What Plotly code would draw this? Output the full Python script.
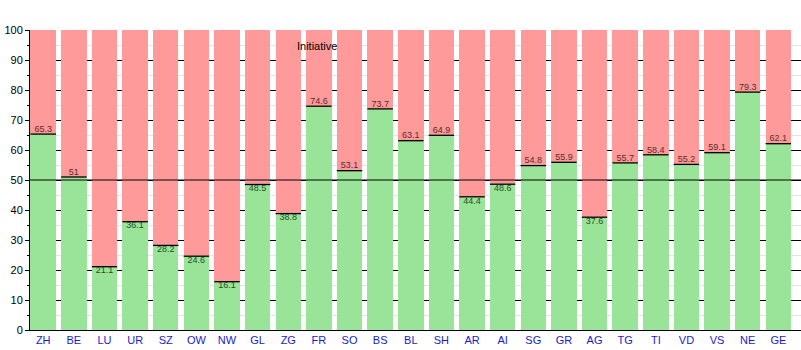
import plotly.graph_objects as go

# Cantonal results of the vote, "yes" share in percent
cantons = ["ZH", "BE", "LU", "UR", "SZ", "OW", "NW", "GL", "ZG", "FR", "SO", "BS", "BL",
           "SH", "AR", "AI", "SG", "GR", "AG", "TG", "TI", "VD", "VS", "NE", "GE"]
yes_pct = [65.3, 51, 21.1, 36.1, 28.2, 24.6, 16.1, 48.5, 38.8, 74.6, 53.1, 73.7, 63.1,
           64.9, 44.4, 48.6, 54.8, 55.9, 37.6, 55.7, 58.4, 55.2, 59.1, 79.3, 62.1]
y_ticks = [0, 10, 20, 30, 40, 50, 60, 70, 80, 90, 100]
title_text = "Initiative"

GREEN = "rgb(154,228,154)"
RED = "rgb(255,154,154)"
BAR_W = 0.832

xs = list(range(len(cantons)))
no_pct = [round(100 - v, 1) for v in yes_pct]

fig = go.Figure()
fig.add_trace(go.Bar(x=xs, y=yes_pct, width=BAR_W, marker=dict(color=GREEN, line=dict(width=0)),
                     hoverinfo="skip"))
fig.add_trace(go.Bar(x=xs, y=no_pct, width=BAR_W, marker=dict(color=RED, line=dict(width=0)),
                     hoverinfo="skip"))

# black rule on top of each yes-bar
lx, ly = [], []
for x, v in zip(xs, yes_pct):
    lx += [x - BAR_W / 2, x + BAR_W / 2, None]
    ly += [v, v, None]
fig.add_trace(go.Scatter(x=lx, y=ly, mode="lines", line=dict(color="black", width=1.3),
                         hoverinfo="skip"))

# value labels: above the rule on the red part, below it on the green part
fig.add_trace(go.Scatter(
    x=xs, y=yes_pct, mode="text",
    text=[f"{v:g}" for v in yes_pct],
    textposition=["top center" if v >= 50 else "bottom center" for v in yes_pct],
    textfont=dict(size=9, color=["#5a2a2a" if v >= 50 else "#1f4f1f" for v in yes_pct],
                  family="Liberation Sans, Arial, sans-serif"),
    hoverinfo="skip"))

fig.add_shape(type="line", xref="paper", yref="y", x0=0, x1=1, y0=50, y1=50,
              line=dict(color="black", width=1), layer="above")

fig.add_annotation(text=title_text, xref="x", yref="paper", x=8.95, y=0.947,
                   showarrow=False, xanchor="center", yanchor="middle",
                   font=dict(size=11, color="black", family="Liberation Sans, Arial, sans-serif"))

fig.update_layout(
    width=801, height=350,
    margin=dict(l=29.5, r=0, t=30, b=20),
    barmode="stack",
    showlegend=False,
    plot_bgcolor="white", paper_bgcolor="white",
    font=dict(family="Liberation Sans, Arial, sans-serif", size=11, color="black"),
    xaxis=dict(range=[-0.432, 24.74], tickvals=xs, ticktext=cantons, showgrid=False,
               ticks="", showline=True, linecolor="black", linewidth=1,
               tickfont=dict(color="#1a1acc", size=11), fixedrange=True, zeroline=False),
    yaxis=dict(range=[0, 100], tickvals=y_ticks, showgrid=True, gridcolor="black", gridwidth=1,
               ticks="outside", ticklen=4, tickcolor="black", showline=True, linecolor="black",
               linewidth=1, zeroline=False, tickfont=dict(size=11, color="black"),
               minor=dict(dtick=5, showgrid=True, gridcolor="#e4e4e4", ticks="outside",
                          ticklen=2, tickcolor="black"),
               fixedrange=True),
)

fig.write_html("out.html")
